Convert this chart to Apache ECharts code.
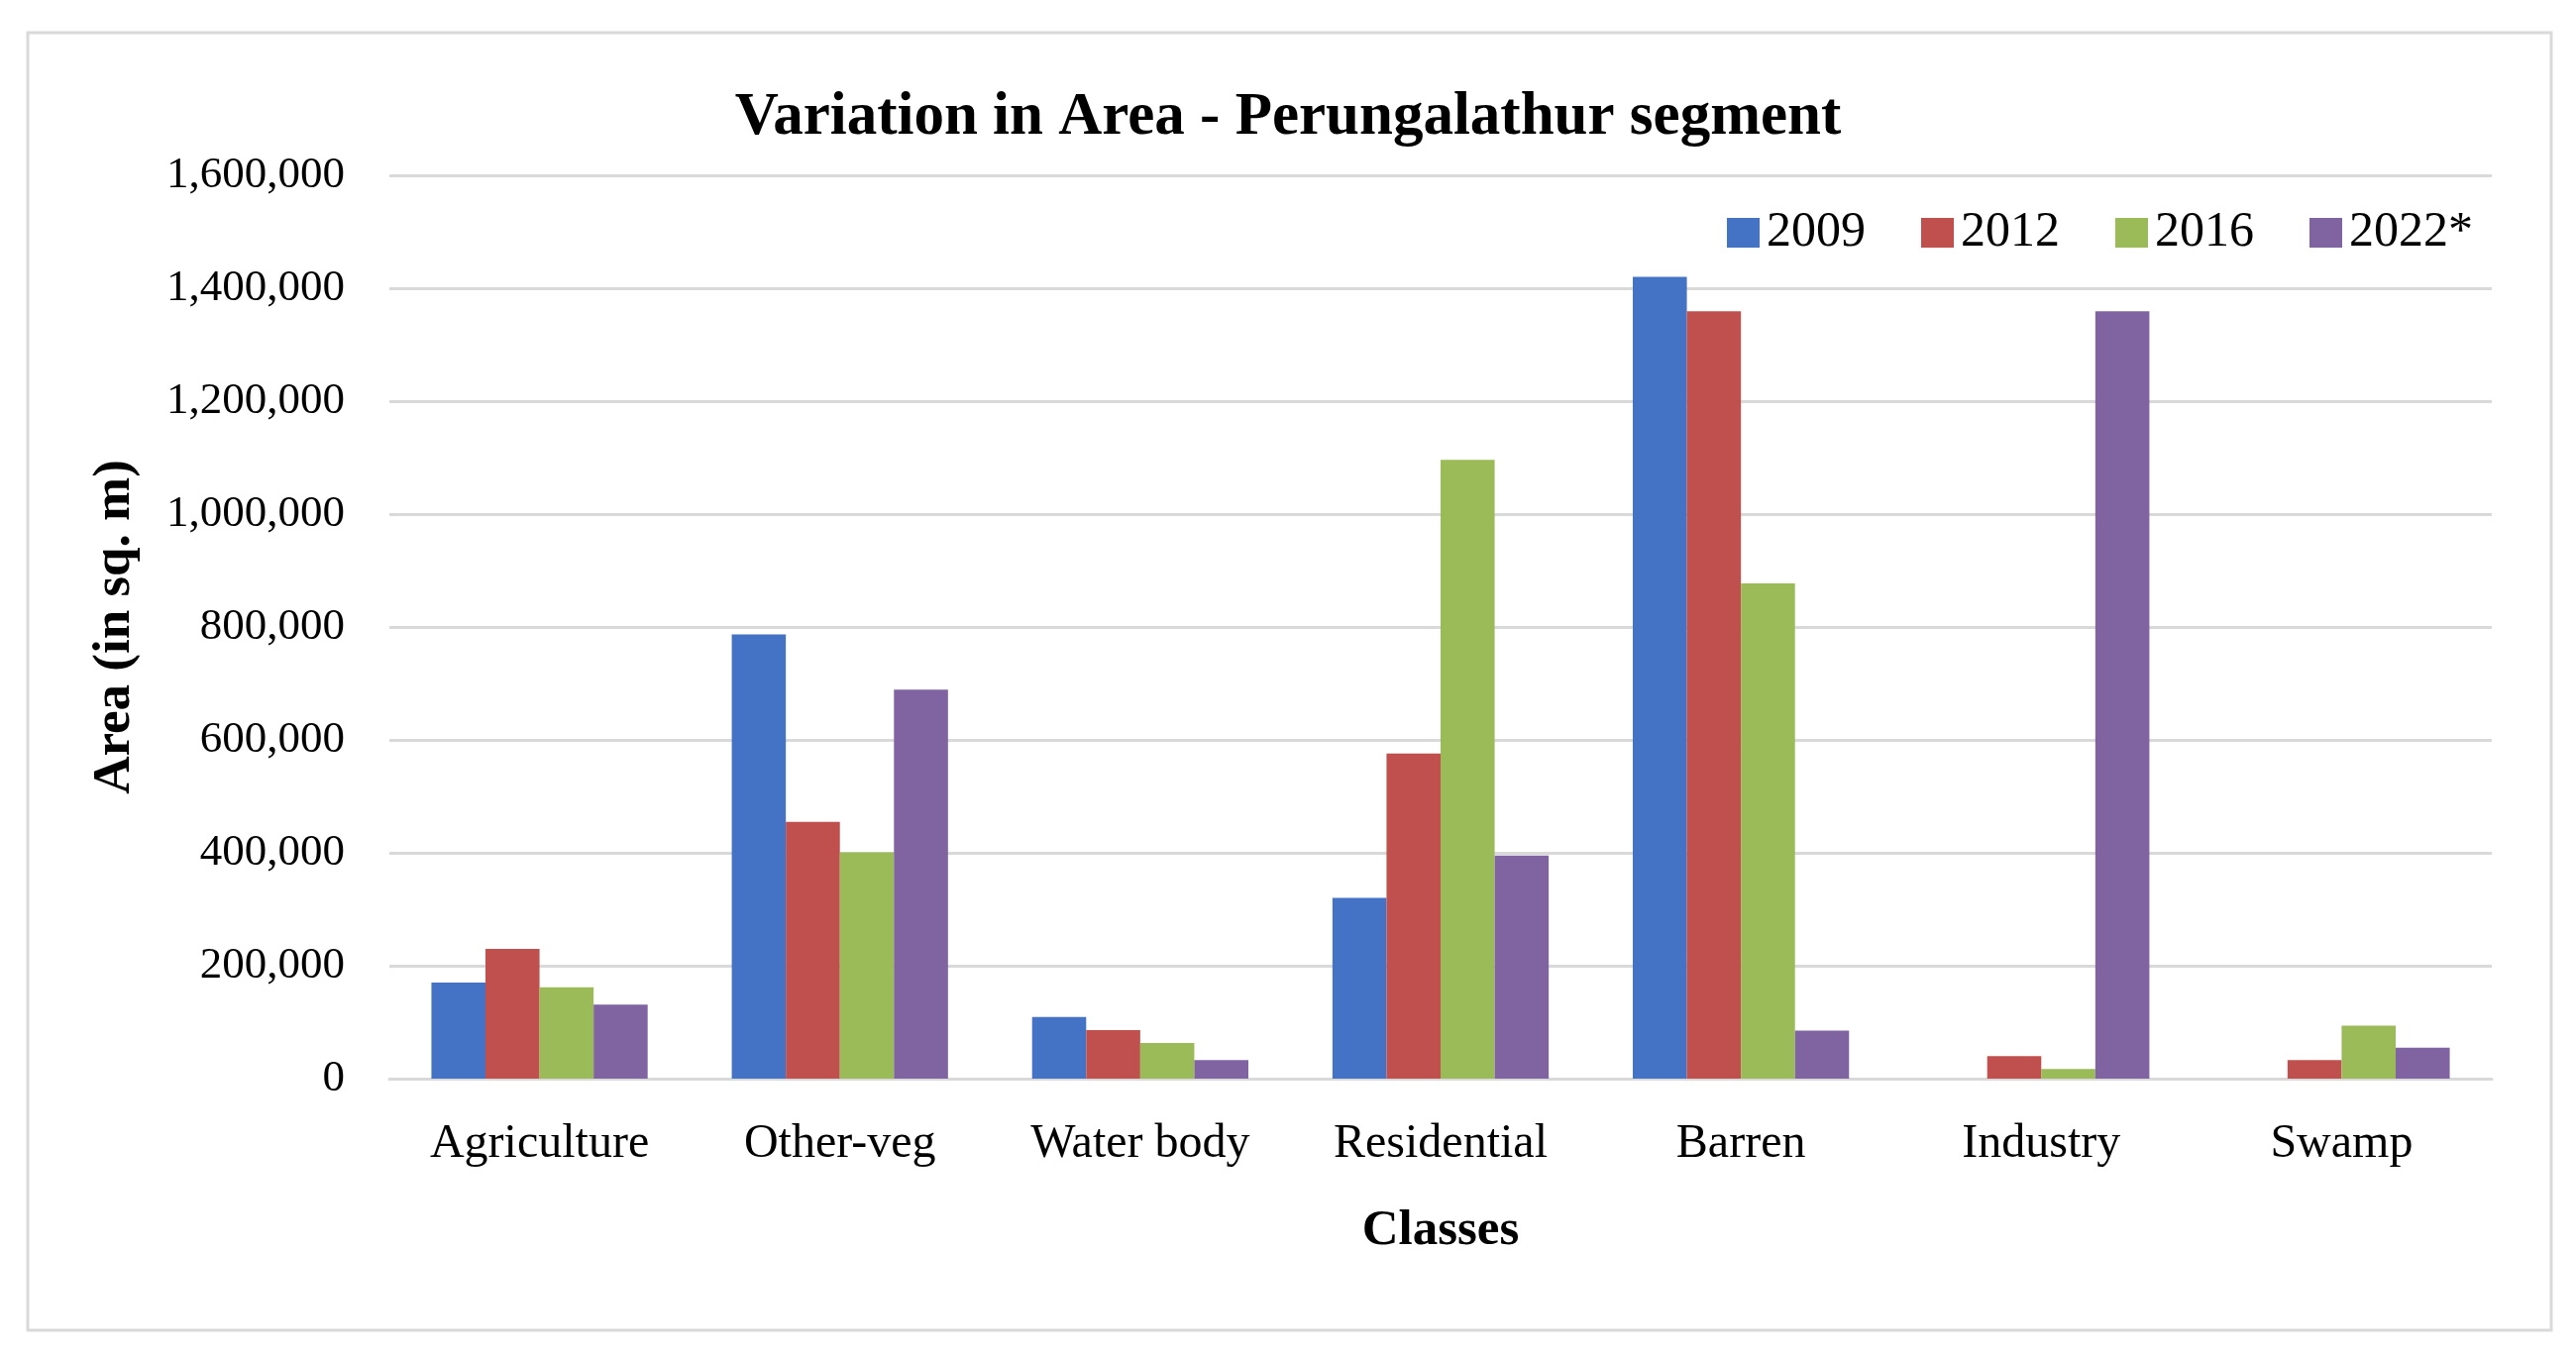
<!DOCTYPE html>
<html>
<head>
<meta charset="utf-8">
<script src="https://cdn.jsdelivr.net/npm/echarts@6/dist/echarts.min.js"></script>
<style>
html,body{margin:0;padding:0;background:#fff;}
#chart{width:2600px;height:1367px;}
</style>
</head>
<body>
<div id="chart"></div>
<script>
const categories = ['Agriculture','Other-veg','Water body','Residential','Barren','Industry','Swamp'];
const seriesNames = ['2009','2012','2016','2022*'];
const v2009 = [170000, 787000, 109000, 320000, 1420000, 0, 0];
const v2012 = [230000, 455000, 86000, 576000, 1359000, 40000, 33000];
const v2016 = [162000, 401000, 63000, 1096000, 877000, 17000, 94000];
const v2022 = [131000, 689000, 33000, 395000, 85000, 1359000, 55000];
const colors = ['#4472C4','#C0504D','#9BBB59','#8064A2'];
const yTicks = [0, 200000, 400000, 600000, 800000, 1000000, 1200000, 1400000, 1600000];

const FONT = '"Liberation Serif", "Times New Roman", serif';
const chart = echarts.init(document.getElementById('chart'));
const allValues = [v2009, v2012, v2016, v2022];
chart.setOption({
  backgroundColor: '#fff',
  animation: false,
  graphic: [{
    type: 'rect',
    shape: {x: 28, y: 33, width: 2547, height: 1310},
    style: {fill: 'none', stroke: '#d9d9d9', lineWidth: 3}
  }],
  title: {
    text: 'Variation in Area - Perungalathur segment',
    left: 'center',
    top: 84,
    textStyle: {fontFamily: FONT, fontWeight: 'bold', fontSize: 61, color: '#000'}
  },
  legend: {
    left: 1738,
    top: 205,
    itemWidth: 33,
    itemHeight: 30,
    itemGap: 56,
    icon: 'rect',
    textStyle: {fontFamily: FONT, fontSize: 50, color: '#000', padding: [0,0,0,2]},
    data: seriesNames
  },
  grid: {left: 393, right: 85, top: 177, bottom: 278, containLabel: false},
  xAxis: {
    type: 'category',
    data: categories,
    name: 'Classes',
    nameLocation: 'middle',
    nameGap: 128,
    nameTextStyle: {fontFamily: FONT, fontWeight: 'bold', fontSize: 51, color: '#000'},
    axisTick: {show: false},
    axisLine: {lineStyle: {color: '#d9d9d9', width: 3}},
    axisLabel: {fontFamily: FONT, fontSize: 48, color: '#000', margin: 42}
  },
  yAxis: {
    type: 'value',
    min: yTicks[0],
    max: yTicks[yTicks.length - 1],
    interval: 200000,
    name: 'Area (in sq. m)',
    nameLocation: 'middle',
    nameGap: 250,
    nameTextStyle: {fontFamily: FONT, fontWeight: 'bold', fontSize: 53, color: '#000'},
    axisLine: {show: false},
    axisTick: {show: false},
    splitLine: {lineStyle: {color: '#d9d9d9', width: 3}},
    axisLabel: {
      fontFamily: FONT, fontSize: 45, color: '#000', margin: 45,
      formatter: v => v.toLocaleString('en-US')
    }
  },
  series: seriesNames.map((n, i) => ({
    name: n,
    type: 'bar',
    data: allValues[i],
    itemStyle: {color: colors[i]},
    barGap: '0%',
    barCategoryGap: '28%'
  }))
});
</script>
</body>
</html>
